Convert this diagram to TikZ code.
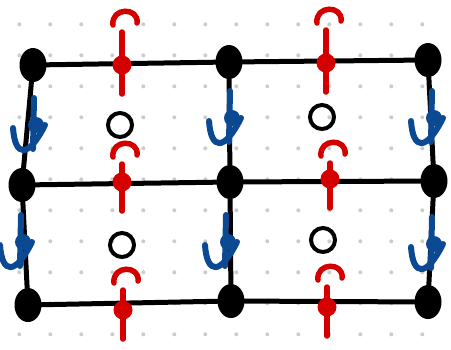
\documentclass[tikz,border=0pt]{standalone}
\usetikzlibrary{shapes.geometric,calc}
\definecolor{rd}{HTML}{D40000}
\definecolor{bl}{HTML}{0B4A92}
% #1 name, #2 x, #3 y, #4 line top offset, #5 arc base offset
\newcommand\redarr[5]{%
  \node[rdot] (#1) at (#2,#3) {};
  \draw[rline] ($(#1)+(0,29)$) -- ($(#1)+(0,-#4)$);
  \draw[rline] ($(#1)+(-9,-#5)$) .. controls ($(#1)+(-11,-#5-18)$) and ($(#1)+(17,-#5-18)$) .. ($(#1)+(15,-#5-2)$);
}
\newcommand\bluearr[3]{%
  \node[bdot] (#1) at (#2,#3) {};
  \draw[bline] ($(#1)+(-2,-27)$) -- ($(#1)+(-3,24)$);
  \draw[bline] ($(#1)+(-23,3)$) .. controls ($(#1)+(-21,32)$) and ($(#1)+(-8,34)$) .. ($(#1)+(9,0)$);
}
\begin{document}
\begin{tikzpicture}[x=1pt,y=-1pt,
  vtx/.style={ellipse, fill=black, minimum width=27pt, minimum height=34pt, inner sep=0pt},
  edge/.style={line width=5pt, line cap=round},
  rdot/.style={circle, fill=rd, minimum size=19pt, inner sep=0pt},
  bdot/.style={circle, fill=bl, minimum size=16pt, inner sep=0pt},
  plaq/.style={circle, draw=black, line width=4pt, minimum size=24pt, inner sep=0pt},
  rline/.style={draw=rd, line width=5.5pt, line cap=round},
  bline/.style={draw=bl, line width=6pt, line cap=round, line join=round},
  griddot/.style={fill=black!20}]
\useasboundingbox (0,0) rectangle (451,349);
\fill[white] (0,0) rectangle (451,349);
\foreach \i in {0,...,13} \foreach \j in {0,...,10}
  \fill[griddot] ({19.3+31*\i},{24.3+31*\j}) circle (2);
% vertices
\node[vtx] (a1) at (33,65) {};
\node[vtx] (a2) at (229,62) {};
\node[vtx] (a3) at (428,60) {};
\node[vtx] (b1) at (22,185) {};
\node[vtx] (b2) at (230,182) {};
\node[vtx] (b3) at (434,181) {};
\node[vtx] (c1) at (28,305) {};
\node[vtx] (c2) at (231,301) {};
\node[vtx] (c3) at (428,302) {};
% edges
\draw[edge] (a1) -- (a2);
\draw[edge] (a2) -- (a3);
\draw[edge] (b1) -- (b2);
\draw[edge] (b2) -- (b3);
\draw[edge] (c1) -- (c2);
\draw[edge] (c2) -- (c3);
\draw[edge] (a1) -- (b1);
\draw[edge] (b1) -- (c1);
\draw[edge] (a2) -- (b2);
\draw[edge] (b2) -- (c2);
\draw[edge] (a3) -- (b3);
\draw[edge] (b3) -- (c3);
% plaquette circles
\node[plaq] (p1) at (120,125) {};
\node[plaq] (p2) at (322,117) {};
\node[plaq] (p3) at (122,245) {};
\node[plaq] (p4) at (323,240) {};
% red arrows
\redarr{r1}{122}{65}{33}{40}
\redarr{r2}{326}{63}{33}{40}
\redarr{r3}{122}{182}{18}{25}
\redarr{r4}{330}{179}{16}{23}
\redarr{r5}{123}{310}{20}{27}
\redarr{r6}{327}{307}{20}{27}
% blue arrows
\bluearr{u1}{36}{125}
\bluearr{u2}{232}{118}
\bluearr{u3}{434}{118}
\bluearr{u4}{23}{242}
\bluearr{u5}{228}{242}
\bluearr{u6}{434}{244}
\end{tikzpicture}
\end{document}
